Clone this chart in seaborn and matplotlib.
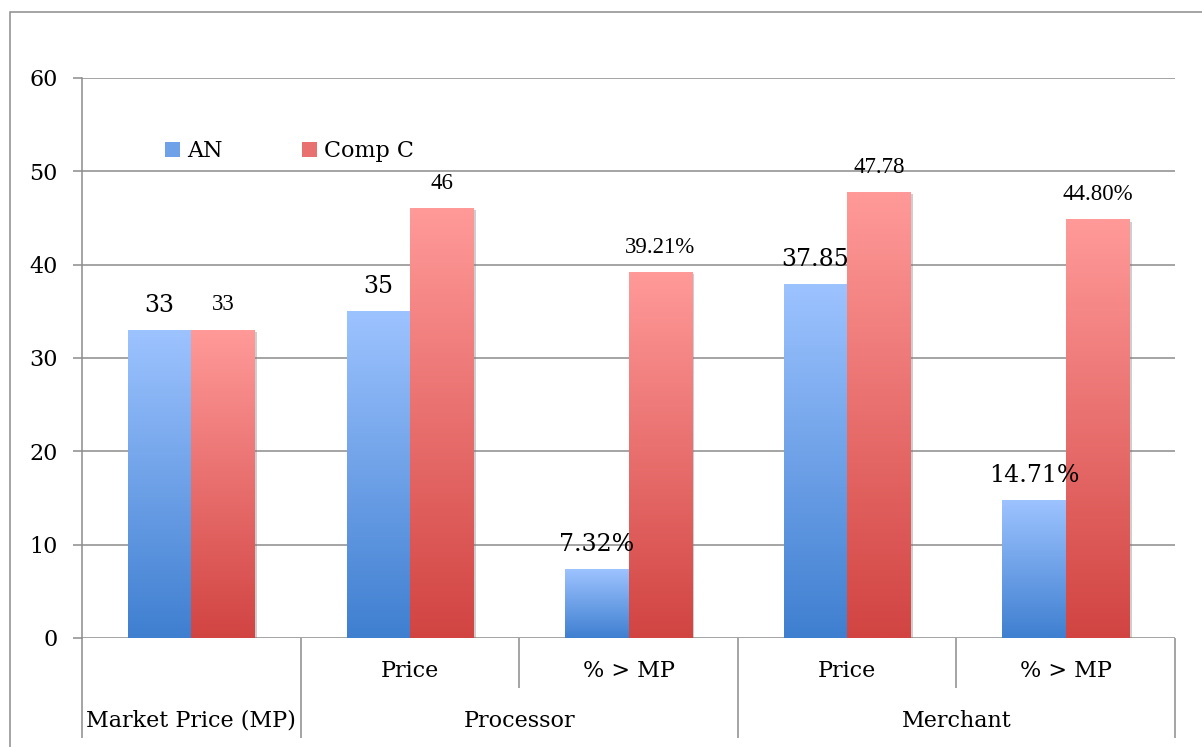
import numpy as np
import pandas as pd
import matplotlib
matplotlib.use("Agg")
import matplotlib.pyplot as plt
import matplotlib.patheffects as pe
from matplotlib.colors import LinearSegmentedColormap
from matplotlib.patches import Patch, Rectangle
import seaborn as sns

# ---- data -------------------------------------------------------------
metrics = ["Market Price (MP)", "Processor Price", "Processor % > MP",
           "Merchant Price", "Merchant % > MP"]
sub_labels = ["", "Price", "% > MP", "Price", "% > MP"]
groups = ["Market Price (MP)", "Processor", "Merchant"]
group_members = [[0], [1, 2], [3, 4]]
series = ["AN", "Comp C"]
an_values = [33, 35, 7.32, 37.85, 14.71]
compc_values = [33, 46, 39.21, 47.78, 44.80]
is_percent = [False, False, True, False, True]
y_ticks = [0, 10, 20, 30, 40, 50, 60]

df = pd.DataFrame({
    "metric": metrics * 2,
    "series": [series[0]] * len(metrics) + [series[1]] * len(metrics),
    "value": an_values + compc_values,
})

# ---- style ------------------------------------------------------------
sns.set_style("white")
plt.rcParams["font.family"] = ["DejaVu Serif"]
plt.rcParams["text.color"] = "black"
plt.rcParams["ytick.labelcolor"] = "black"

GRID = "#8c8c8c"
light = ["#9dc3ff", "#ff9a99"]
dark = ["#3f7fd0", "#d14442"]
mid = ["#6ea1e8", "#e87170"]
label_fonts = [("DejaVu Serif", 17), ("Liberation Serif", 16.5)]
FS = 16

fig = plt.figure(figsize=(12.02, 7.47), dpi=100)
ax = fig.add_axes([82 / 1202, 1 - 638 / 747, (1175 - 82) / 1202, (638 - 78) / 747])

sns.barplot(data=df, x="metric", y="value", hue="series", order=metrics,
            hue_order=series, palette=mid, width=0.58, saturation=1,
            legend=False, ax=ax)

# vertical gradient fill for each bar
grad = np.linspace(0, 1, 256).reshape(-1, 1)
for k, cont in enumerate(ax.containers):
    cmap = LinearSegmentedColormap.from_list(f"g{k}", [dark[k], light[k]])
    for bar, v, pct in zip(cont, [an_values, compc_values][k], is_percent):
        x0, w, h = bar.get_x(), bar.get_width(), bar.get_height()
        ax.imshow(grad, extent=(x0, x0 + w, 0, h), origin="lower", cmap=cmap,
                  aspect="auto", zorder=2.5, interpolation="bilinear")
        bar.set_facecolor("none")
        bar.set_edgecolor("none")
        bar.set_zorder(2)
        bar.set_path_effects([pe.SimplePatchShadow(offset=(1.8, -1.2),
                                                   shadow_rgbFace=(0.45, 0.45, 0.45),
                                                   alpha=0.35)])
        txt = f"{v:.2f}%" if pct else f"{v:g}"
        fam, size = label_fonts[k]
        ax.annotate(txt, (x0 + w / 2, h), xytext=(0, 18), textcoords="offset points",
                    ha="center", va="center", fontfamily=fam, fontsize=size,
                    color="black", zorder=4)

ax.set_xlim(-0.5, len(metrics) - 0.5)
ax.set_ylim(0, 60)
ax.set_yticks(y_ticks)
ax.set_axisbelow(True)
ax.yaxis.grid(True, color=GRID, linewidth=1.1)
ax.xaxis.grid(False)
ax.tick_params(axis="y", length=6.5, width=1.1, color=GRID, pad=11,
               labelsize=FS, left=True, labelcolor="black")
ax.set_xticks([])
ax.set_xlabel("")
ax.set_ylabel("")
for s in ["top", "right", "bottom"]:
    ax.spines[s].set_visible(False)
ax.spines["left"].set_color(GRID)
ax.spines["left"].set_linewidth(1.1)

# two-level category axis
trans = ax.get_xaxis_transform()
full_drop, short_drop = -0.1786, -0.0893
bounds = [-0.5]
for members in group_members:
    bounds.append(members[-1] + 0.5)
for b in bounds:
    ax.plot([b, b], [0, full_drop], transform=trans, color=GRID, lw=1.1,
            clip_on=False, solid_capstyle="butt")
for members in group_members:
    for m in members[:-1]:
        ax.plot([m + 0.5, m + 0.5], [0, short_drop], transform=trans, color=GRID,
                lw=1.1, clip_on=False, solid_capstyle="butt")
for i, lab in enumerate(sub_labels):
    if lab:
        ax.text(i, -0.059, lab, transform=trans, ha="center", va="center",
                fontsize=FS, color="black")
for name, members in zip(groups, group_members):
    ax.text(np.mean(members), -0.148, name, transform=trans, ha="center",
            va="center", fontsize=FS, color="black")

# legend
handles = [Patch(facecolor=c, edgecolor="none") for c in mid]
leg = ax.legend(handles, series, loc="center left", bbox_to_anchor=(0.0759, 0.8696),
                frameon=False, ncol=2, handlelength=0.68, handleheight=0.68,
                handletextpad=0.3, columnspacing=3.6, borderpad=0, borderaxespad=0,
                prop={"family": "DejaVu Serif", "size": FS})
for t in leg.get_texts():
    t.set_color("black")

# outer chart frame
fig.patches.append(Rectangle((10 / 1202, -0.02), 1.0, 1 - 12 / 747 + 0.02,
                             transform=fig.transFigure, fill=False,
                             edgecolor=GRID, linewidth=1.1))

fig.savefig("out.png", dpi=100)
